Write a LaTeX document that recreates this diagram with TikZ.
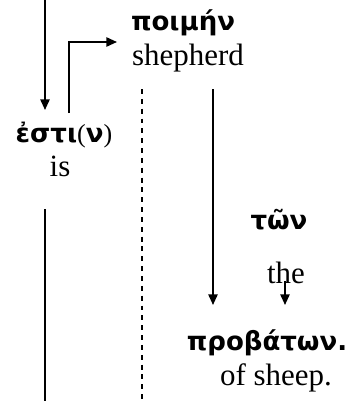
\documentclass[tikz,border=0pt]{standalone}
\usepackage{fontspec}
\setmainfont{Liberation Serif}
\newfontfamily\greekfont{DejaVu Sans}
\usetikzlibrary{arrows.meta}
\tikzset{
  link/.style={->, line width=1.3pt, >={Triangle[length=7.5pt,width=6.5pt]}},
  trunk/.style={line width=1.3pt},
  divider/.style={line width=1.2pt, dash pattern=on 3.5pt off 3.5pt},
  greek/.style={font=\greekfont\bfseries\fontsize{18.5}{22}\selectfont, inner sep=0pt},
  gloss/.style={font=\fontsize{22}{26}\selectfont, inner sep=0pt}
}

\begin{document}
\begin{tikzpicture}[x=0.025cm, y=-0.025cm]
  \useasboundingbox (0,0) rectangle (348,401);

  \node[greek] (esti) at (64,135) {ἐστι{\normalfont\mdseries(}ν{\normalfont\mdseries)}};
  \node[gloss] (is) at (60,166) {is};
  \node[greek] (poimen) at (183,23) {ποιμήν};
  \node[gloss] (shepherd) at (188,58) {shepherd};
  \node[greek] (ton) at (279,220) {τῶν};
  \node[gloss] (the) at (286,273) {the};
  \node[greek] (probaton) at (267,343) {προβάτων.};
  \node[gloss] (sheep) at (276,378) {of sheep.};

  \coordinate (top) at (45,0);
  \coordinate (esti in) at (45,110);
  \coordinate (esti out) at (69,113);
  \coordinate (poimen in) at (117,42);
  \coordinate (is out) at (45,209);
  \coordinate (bottom) at (45,401);
  \coordinate (dash top) at (142,89);
  \coordinate (dash end) at (142,401);
  \coordinate (shepherd out) at (213,89);
  \coordinate (probaton in) at (213,305);
  \coordinate (the out) at (285,281);
  \coordinate (probaton in2) at (285,305);

  \draw[link] (top) -- (esti in);
  \draw[link] (esti out) |- (poimen in);
  \draw[trunk] (is out) -- (bottom);
  \draw[divider] (dash top) -- (dash end);
  \draw[link] (shepherd out) -- (probaton in);
  \draw[link] (the out) -- (probaton in2);
\end{tikzpicture}
\end{document}
